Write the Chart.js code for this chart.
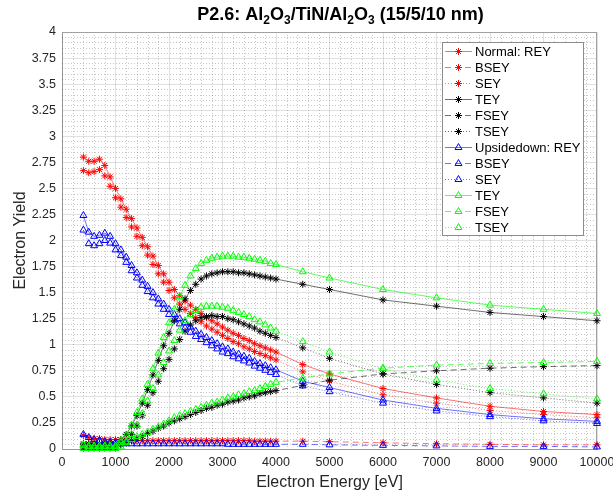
<!DOCTYPE html>
<html>
<head>
<meta charset="utf-8">
<script src="https://cdn.jsdelivr.net/npm/chart.js@4.4.1/dist/chart.umd.min.js"></script>
<style>
  body { margin: 0; background: #fff; }
  #wrap { width: 613px; height: 495px; }
</style>
</head>
<body>
<div id="wrap"><canvas id="myChart" width="613" height="495"></canvas></div>
<script>
// electron energy [eV] of every measurement
const energy = [400, 500, 600, 700, 800, 900, 1000,
  1100, 1200, 1300, 1400, 1500, 1600, 1700, 1800, 1900, 2000,
  2100, 2200, 2300, 2400, 2500, 2600, 2700, 2800, 2900, 3000,
  3100, 3200, 3300, 3400, 3500, 3600, 3700, 3800, 3900, 4000,
  4500, 5000, 6000, 7000, 8000, 9000, 10000];

// Normal orientation
const normalREY = [2.80, 2.76, 2.76, 2.78, 2.72, 2.61, 2.50,
  2.40, 2.30, 2.21, 2.12, 2.03, 1.94, 1.85, 1.76, 1.68, 1.60,
  1.53, 1.47, 1.42, 1.38, 1.34, 1.30, 1.26, 1.23, 1.20, 1.17,
  1.14, 1.11, 1.09, 1.06, 1.04, 1.01, 0.99, 0.97, 0.95, 0.93,
  0.81, 0.72, 0.58, 0.49, 0.41, 0.36, 0.33];
const normalBSEY = [0.13, 0.11, 0.10, 0.10, 0.09, 0.09, 0.09,
  0.085, 0.085, 0.08, 0.08, 0.08, 0.08, 0.08, 0.08, 0.08, 0.08,
  0.08, 0.08, 0.08, 0.08, 0.08, 0.08, 0.08, 0.08, 0.08, 0.08,
  0.08, 0.08, 0.08, 0.08, 0.08, 0.075, 0.075, 0.075, 0.075, 0.075,
  0.075, 0.07, 0.06, 0.05, 0.045, 0.04, 0.04];
const normalSEY = [2.67, 2.65, 2.66, 2.68, 2.62, 2.52, 2.41,
  2.32, 2.22, 2.13, 2.04, 1.95, 1.86, 1.77, 1.68, 1.60, 1.52,
  1.45, 1.39, 1.34, 1.30, 1.26, 1.22, 1.18, 1.15, 1.12, 1.09,
  1.06, 1.03, 1.01, 0.98, 0.96, 0.935, 0.915, 0.895, 0.875, 0.855,
  0.74, 0.65, 0.52, 0.44, 0.37, 0.33, 0.30];
const normalTEY = [0.05, 0.05, 0.05, 0.05, 0.05, 0.05, 0.05,
  0.09, 0.14, 0.22, 0.32, 0.44, 0.57, 0.71, 0.85, 0.99, 1.11,
  1.23, 1.34, 1.44, 1.52, 1.58, 1.63, 1.66, 1.68, 1.69, 1.70,
  1.70, 1.70, 1.69, 1.69, 1.68, 1.67, 1.66, 1.65, 1.64, 1.63,
  1.58, 1.53, 1.43, 1.37, 1.31, 1.27, 1.23];
const normalFSEY = [0.01, 0.01, 0.01, 0.01, 0.01, 0.01, 0.01,
  0.05, 0.06, 0.08, 0.10, 0.12, 0.15, 0.17, 0.20, 0.22, 0.25,
  0.27, 0.29, 0.31, 0.33, 0.35, 0.37, 0.39, 0.40, 0.42, 0.43,
  0.45, 0.46, 0.47, 0.49, 0.50, 0.51, 0.53, 0.54, 0.55, 0.56,
  0.61, 0.66, 0.72, 0.75, 0.775, 0.79, 0.80];
const normalTSEY = [0.04, 0.04, 0.04, 0.04, 0.04, 0.04, 0.04,
  0.04, 0.08, 0.14, 0.22, 0.32, 0.42, 0.54, 0.65, 0.77, 0.86,
  0.96, 1.05, 1.13, 1.19, 1.23, 1.26, 1.27, 1.28, 1.27, 1.27,
  1.25, 1.24, 1.22, 1.20, 1.18, 1.16, 1.13, 1.11, 1.09, 1.07,
  0.97, 0.87, 0.72, 0.62, 0.54, 0.49, 0.44];

// Upside-down orientation
const upREY = [2.24, 2.08, 2.04, 2.05, 2.07, 2.04, 1.97,
  1.91, 1.84, 1.76, 1.69, 1.62, 1.56, 1.50, 1.44, 1.39, 1.34,
  1.29, 1.25, 1.21, 1.17, 1.13, 1.10, 1.07, 1.04, 1.01, 0.98,
  0.96, 0.93, 0.91, 0.89, 0.87, 0.84, 0.82, 0.80, 0.78, 0.76,
  0.65, 0.59, 0.47, 0.39, 0.33, 0.29, 0.265];
const upBSEY = [0.14, 0.11, 0.09, 0.08, 0.07, 0.065, 0.06,
  0.055, 0.05, 0.05, 0.05, 0.05, 0.05, 0.05, 0.05, 0.05, 0.05,
  0.05, 0.05, 0.05, 0.05, 0.05, 0.05, 0.05, 0.05, 0.05, 0.05,
  0.045, 0.045, 0.045, 0.045, 0.045, 0.045, 0.045, 0.045, 0.045, 0.045,
  0.045, 0.04, 0.035, 0.03, 0.025, 0.025, 0.02];
const upSEY = [2.10, 1.97, 1.95, 1.97, 2.00, 1.975, 1.91,
  1.855, 1.79, 1.71, 1.64, 1.57, 1.51, 1.45, 1.39, 1.34, 1.29,
  1.24, 1.20, 1.16, 1.12, 1.08, 1.05, 1.02, 0.99, 0.96, 0.93,
  0.915, 0.885, 0.865, 0.845, 0.825, 0.795, 0.775, 0.755, 0.735, 0.715,
  0.605, 0.55, 0.44, 0.365, 0.31, 0.27, 0.245];
const upTEY = [0.04, 0.03, 0.03, 0.03, 0.03, 0.03, 0.03,
  0.08, 0.13, 0.23, 0.35, 0.48, 0.62, 0.77, 0.92, 1.07, 1.21,
  1.34, 1.46, 1.57, 1.66, 1.73, 1.78, 1.81, 1.83, 1.84, 1.85,
  1.85, 1.85, 1.84, 1.84, 1.83, 1.82, 1.81, 1.80, 1.78, 1.77,
  1.70, 1.64, 1.53, 1.45, 1.38, 1.34, 1.30];
const upFSEY = [0.005, 0.005, 0.005, 0.005, 0.005, 0.005, 0.005,
  0.06, 0.07, 0.09, 0.12, 0.14, 0.16, 0.19, 0.21, 0.24, 0.27,
  0.30, 0.32, 0.34, 0.36, 0.38, 0.40, 0.42, 0.44, 0.45, 0.47,
  0.49, 0.50, 0.52, 0.53, 0.55, 0.56, 0.58, 0.60, 0.62, 0.64,
  0.68, 0.72, 0.775, 0.805, 0.82, 0.83, 0.84];
const upTSEY = [0.035, 0.025, 0.025, 0.025, 0.025, 0.025, 0.025,
  0.02, 0.06, 0.14, 0.23, 0.34, 0.46, 0.58, 0.71, 0.83, 0.94,
  1.04, 1.14, 1.23, 1.29, 1.33, 1.36, 1.37, 1.37, 1.37, 1.36,
  1.35, 1.33, 1.31, 1.29, 1.27, 1.24, 1.22, 1.19, 1.16, 1.13,
  1.03, 0.93, 0.77, 0.66, 0.58, 0.53, 0.48];

const seriesLabels = ['Normal: REY', 'BSEY', 'SEY', 'TEY', 'FSEY', 'TSEY',
  'Upsidedown: REY', 'BSEY', 'SEY', 'TEY', 'FSEY', 'TSEY'];
const seriesValues = [normalREY, normalBSEY, normalSEY, normalTEY, normalFSEY, normalTSEY,
  upREY, upBSEY, upSEY, upTEY, upFSEY, upTSEY];

// title pieces: [text, isSubscript]
const titleParts = [['P2.6: Al', false], ['2', true], ['O', false], ['3', true],
  ['/TiN/Al', false], ['2', true], ['O', false], ['3', true], [' (15/5/10 nm)', false]];

// styles (MATLAB-ish)
const colors = ['#ff0000', '#ff0000', '#ff0000', '#000000', '#000000', '#000000',
  '#0000ff', '#0000ff', '#0000ff', '#00ff00', '#00ff00', '#00ff00'];
const lineAlpha = ['rgba(255,0,0,0.7)', 'rgba(0,0,0,0.7)', 'rgba(0,0,255,0.7)', 'rgba(0,255,0,0.8)'];
const dashes = [[], [6, 4], [1, 2]];
const fontFam = '"Liberation Sans", Arial, Helvetica, sans-serif';

const datasets = seriesValues.map((vals, i) => {
  const group = Math.floor(i / 3);
  const marker = i < 6 ? 'star' : 'triangle';
  return {
    label: seriesLabels[i],
    data: energy.map((e, k) => ({ x: e, y: vals[k] })),
    borderColor: lineAlpha[group],
    borderWidth: 0.8,
    borderDash: dashes[i % 3],
    pointStyle: marker,
    pointRadius: marker === 'star' ? 3.5 : 4,
    pointBorderColor: colors[i],
    pointBackgroundColor: 'rgba(0,0,0,0)',
    pointBorderWidth: 1,
    fill: false,
    tension: 0,
    clip: false,
    order: seriesValues.length - i
  };
});

function drawMarker(ctx, style, x, y, r) {
  ctx.beginPath();
  if (style === 'star') {
    const d = r * Math.SQRT1_2;
    ctx.moveTo(x, y - r); ctx.lineTo(x, y + r);
    ctx.moveTo(x - r, y); ctx.lineTo(x + r, y);
    ctx.moveTo(x - d, y - d); ctx.lineTo(x + d, y + d);
    ctx.moveTo(x - d, y + d); ctx.lineTo(x + d, y - d);
  } else {
    const s = r * Math.sqrt(3) / 2;
    ctx.moveTo(x, y - r); ctx.lineTo(x + s, y + r / 2); ctx.lineTo(x - s, y + r / 2);
    ctx.closePath();
  }
  ctx.stroke();
}

// dotted minor grid, box, title and legend
const matlabAxes = {
  id: 'matlabAxes',
  beforeDatasetsDraw(chart) {
    const { ctx, chartArea: a, scales: { x, y } } = chart;
    ctx.save();
    ctx.strokeStyle = 'rgba(0,0,0,0.22)';
    ctx.lineWidth = 1;
    ctx.setLineDash([1, 2]);
    for (let v = 200; v < 10000; v += 200) {
      if (v % 1000 === 0) continue;
      const px = Math.round(x.getPixelForValue(v)) + 0.5;
      ctx.beginPath(); ctx.moveTo(px, a.top); ctx.lineTo(px, a.bottom); ctx.stroke();
    }
    for (let k = 1; k < 80; k++) {
      if (k % 5 === 0) continue;
      const py = Math.round(y.getPixelForValue(k * 0.05)) + 0.5;
      ctx.beginPath(); ctx.moveTo(a.left, py); ctx.lineTo(a.right, py); ctx.stroke();
    }
    ctx.setLineDash([]);
    ctx.strokeStyle = '#a0a0a0';
    ctx.beginPath();
    ctx.moveTo(a.left, a.top + 0.5); ctx.lineTo(a.right, a.top + 0.5);
    ctx.moveTo(a.right - 0.5, a.top); ctx.lineTo(a.right - 0.5, a.bottom);
    ctx.stroke();
    ctx.restore();
  },
  afterDraw(chart) {
    const { ctx, chartArea: a } = chart;
    ctx.save();

    // title with real subscripts
    const mainFont = 'bold 18px ' + fontFam, subFont = 'bold 12px ' + fontFam;
    let tw = 0;
    titleParts.forEach(([t, sub]) => { ctx.font = sub ? subFont : mainFont; tw += ctx.measureText(t).width; });
    let tx = (a.left + a.right) / 2 + 11 - tw / 2;
    ctx.fillStyle = '#000';
    ctx.textBaseline = 'alphabetic';
    titleParts.forEach(([t, sub]) => {
      ctx.font = sub ? subFont : mainFont;
      ctx.fillText(t, tx, sub ? 23.5 : 19.5);
      tx += ctx.measureText(t).width;
    });

    // legend box
    const x0 = a.right - 155, y0 = a.top + 10, w = 141, h = 193, row = 16;
    ctx.fillStyle = '#fff';
    ctx.fillRect(x0, y0, w, h);
    ctx.strokeStyle = '#8c8c8c';
    ctx.lineWidth = 1;
    ctx.strokeRect(x0 + 0.5, y0 + 0.5, w, h);
    ctx.font = '13px ' + fontFam;
    ctx.textBaseline = 'middle';
    chart.data.datasets.forEach((ds, i) => {
      const cy = y0 + 9.5 + row * i;
      ctx.strokeStyle = ds.borderColor;
      ctx.lineWidth = 0.8;
      ctx.setLineDash(ds.borderDash);
      ctx.beginPath(); ctx.moveTo(x0 + 3, cy); ctx.lineTo(x0 + 30, cy); ctx.stroke();
      ctx.setLineDash([]);
      ctx.strokeStyle = ds.pointBorderColor;
      ctx.lineWidth = 1;
      drawMarker(ctx, ds.pointStyle, x0 + 16.5, cy, ds.pointRadius);
      ctx.fillStyle = '#000';
      ctx.fillText(ds.label, x0 + 33, cy + 0.5);
    });
    ctx.restore();
  }
};

new Chart(document.getElementById('myChart'), {
  type: 'line',
  data: { datasets: datasets },
  plugins: [matlabAxes],
  options: {
    responsive: false,
    animation: false,
    events: [],
    layout: { padding: { left: 0, right: 16, top: 32, bottom: 0 } },
    plugins: {
      legend: { display: false },
      tooltip: { enabled: false },
      title: { display: false }
    },
    scales: {
      x: {
        type: 'linear',
        min: 0,
        max: 10000,
        ticks: {
          stepSize: 1000,
          padding: 6,
          maxRotation: 0,
          color: '#262626',
          font: { family: fontFam, size: 12.5 },
          callback: v => String(v)
        },
        grid: { color: 'rgba(0,0,0,0.12)', drawTicks: false },
        border: { display: true, color: '#999' },
        title: {
          display: true,
          text: 'Electron Energy [eV]',
          color: '#262626',
          font: { family: fontFam, size: 16 },
          padding: { top: 2, bottom: 3 }
        },
        afterFit: s => { s.height = 46; s.paddingRight = 0; s.paddingLeft = 0; }
      },
      y: {
        min: 0,
        max: 4,
        ticks: {
          stepSize: 0.25,
          padding: 6,
          color: '#262626',
          font: { family: fontFam, size: 12.5 },
          callback: v => String(v)
        },
        grid: { color: 'rgba(0,0,0,0.12)', drawTicks: false },
        border: { display: true, color: '#999' },
        title: {
          display: true,
          text: 'Electron Yield',
          color: '#262626',
          font: { family: fontFam, size: 16 },
          padding: { top: 11, bottom: 0 }
        },
        afterFit: s => { s.width = 62; s.paddingTop = 0; s.paddingBottom = 0; }
      }
    }
  }
});
</script>
</body>
</html>
